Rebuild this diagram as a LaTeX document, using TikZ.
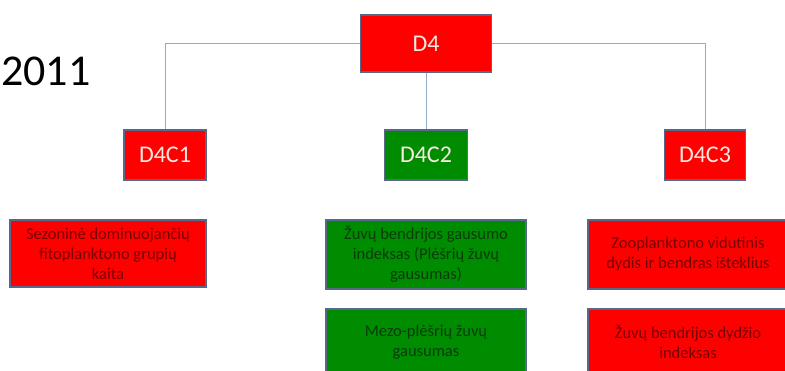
\documentclass[tikz,border=0pt]{standalone}
\usepackage{fontspec}
\setmainfont{Carlito}
\usepackage{xcolor}
\usetikzlibrary{positioning}
\definecolor{msfdRed}{RGB}{255,0,0}
\definecolor{msfdGreen}{RGB}{0,140,0}
\definecolor{msfdEdge}{RGB}{88,104,140}
\definecolor{msfdLink}{RGB}{146,172,200}
\definecolor{msfdRedText}{RGB}{120,0,0}
\definecolor{msfdGreenText}{RGB}{10,60,10}
\definecolor{msfdLabel}{RGB}{252,232,226}

\begin{document}
\begin{tikzpicture}[x=1pt, y=-1pt,
  codebox/.style={draw=msfdEdge, line width=1.5pt, inner sep=0pt, text=msfdLabel,
    font=\fontsize{24}{28}\selectfont},
  critbox/.style={draw=msfdEdge, line width=1.5pt, inner sep=0pt, align=center,
    minimum width=200pt, font=\fontsize{16.5}{20}\selectfont},
  redcrit/.style={critbox, fill=msfdRed, text=msfdRedText},
  greencrit/.style={critbox, fill=msfdGreen, text=msfdGreenText},
  link/.style={draw=msfdLink, line width=1pt}]
\useasboundingbox (0,0) rectangle (785,371);
\clip (0,0) rectangle (785,371);
\fill[white] (0,0) rectangle (785,371);
\node[anchor=west, inner sep=0pt, font=\fontsize{44}{50}\selectfont] (year) at (1,71.5) {2011};
\node[codebox, fill=msfdRed, minimum width=131pt, minimum height=57pt] (d4) at (426,43.5) {D4};
\node[codebox, fill=msfdRed, minimum width=82pt, minimum height=50pt] (d4c1) at (165,155) {D4C1};
\node[codebox, fill=msfdGreen, minimum width=83pt, minimum height=50pt] (d4c2) at (426,155) {D4C2};
\node[codebox, fill=msfdRed, minimum width=81pt, minimum height=50pt] (d4c3) at (705,155) {D4C3};
\draw[link] (d4.west) -| (d4c1.north);
\draw[link] (d4.south) -- (d4c2.north);
\draw[link] (d4.east) -| (d4c3.north);
\node[redcrit, minimum width=196pt, minimum height=67pt] (phyto) at (108,253.5) {Sezoninė dominuojančių\\fitoplanktono grupių\\kaita};
\node[greencrit, minimum height=69pt] (fishabund) at (426,254.5) {Žuvų bendrijos gausumo\\indeksas (Plėšrių žuvų\\gausumas)};
\node[greencrit, minimum height=66pt] (mesopred) at (426,342) {Mezo-plėšrių žuvų\\gausumas};
\node[redcrit, minimum height=69pt] (zoo) at (688,254.5) {Zooplanktono vidutinis\\dydis ir bendras išteklius};
\node[redcrit, minimum height=66pt] (fishsize) at (688,342) {Žuvų bendrijos dydžio\\indeksas};
\end{tikzpicture}
\end{document}
